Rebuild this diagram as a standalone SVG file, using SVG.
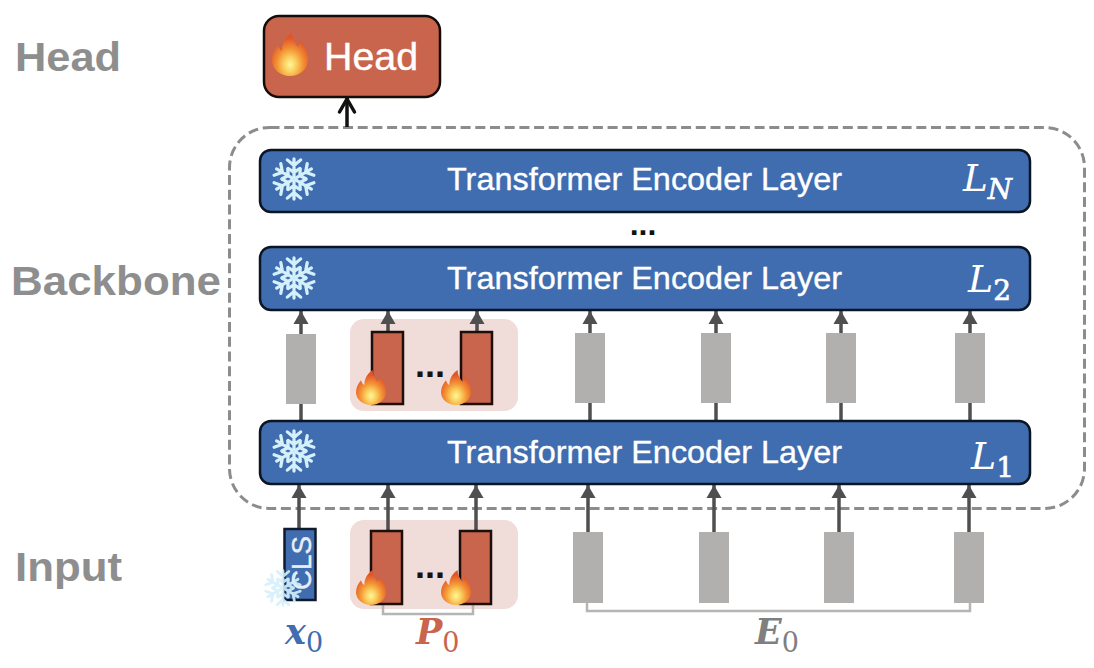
<svg xmlns="http://www.w3.org/2000/svg" width="1094" height="668" viewBox="0 0 1094 668">
  <style>
    .sans { font-family: "Liberation Sans", Arial, sans-serif; }
    .side { font-size: 41px; font-weight: 700; fill: #8e8e8e; }
    .layer { fill: #3f6db0; stroke: #0b1524; stroke-width: 2.5; }
    .layer-text { font-size: 32px; fill: #fff; stroke: #fff; stroke-width: 0.35; }
    .math { font-family: "DejaVu Serif", "Liberation Serif", serif; font-style: italic; }
    .sub { font-family: "DejaVu Serif", "Liberation Serif", serif; font-style: normal; }
    .layer-sub { font-size: 28px; stroke: #fff; stroke-width: 0.7; }
    .token { fill: #b2b0af; }
    .prompt-bg { fill: #f0dcd8; }
    .prompt { fill: #c9654c; stroke: #1b0f0c; stroke-width: 2.5; }
    .dots { font-size: 36px; font-weight: 700; fill: #1a1212; }
    .bracket { fill: none; stroke: #b5b5b5; stroke-width: 2.5; }
    .flow { fill: none; stroke: #4f4f4f; stroke-width: 3.5; }
    .snow-arm { fill: none; stroke: #d4f0fb; stroke-width: 3.4; stroke-linecap: round; stroke-linejoin: round; }
  </style>
  <defs>
    <marker id="tip" markerUnits="userSpaceOnUse" markerWidth="16" markerHeight="16" refX="13" refY="8" orient="auto">
      <path d="M0 0.500 L13 8 L0 15.500 Z" fill="#4f4f4f"/>
    </marker>
    <radialGradient id="fire" cx="50%" cy="74%" r="60%">
      <stop offset="0" stop-color="#fff79a"/>
      <stop offset="0.28" stop-color="#fbd060"/>
      <stop offset="0.6" stop-color="#f39334"/>
      <stop offset="1" stop-color="#e2552a"/>
    </radialGradient>
    <symbol id="flame" viewBox="0 0 36 44" preserveAspectRatio="none">
      <path fill="url(#fire)" d="M20 0 C20 7 23 11 26 15 C27 13 28 11 28 8 C33 14 36 21 36 27 C36 37 28 44 18 44 C8 44 0 37 0 28 C0 22 3 17 6 13 C7 16 8 18 10 19 C10 11 14 4 20 0 Z"/>
    </symbol>
    <g id="arm">
      <path class="snow-arm" d="M0 -2 V-21 M-7 -20 L0 -14 L7 -20 M-6 -11 L0 -7 L6 -11"/>
    </g>
    <symbol id="snowflake" viewBox="-23 -23 46 46">
      <use href="#arm"/>
      <use href="#arm" transform="rotate(60)"/>
      <use href="#arm" transform="rotate(120)"/>
      <use href="#arm" transform="rotate(180)"/>
      <use href="#arm" transform="rotate(240)"/>
      <use href="#arm" transform="rotate(300)"/>
    </symbol>
  </defs>

  <rect width="1094" height="668" fill="#fff"/>

  <!-- stage names on the left -->
  <g id="stage-labels" class="sans side">
    <text x="15" y="71" textLength="106" lengthAdjust="spacingAndGlyphs">Head</text>
    <text x="11" y="295" textLength="210" lengthAdjust="spacingAndGlyphs">Backbone</text>
    <text x="15" y="581" textLength="107" lengthAdjust="spacingAndGlyphs">Input</text>
  </g>

  <!-- dashed backbone frame -->
  <g id="backbone-frame">
    <rect x="229.5" y="127.5" width="855" height="381" rx="40" fill="none" stroke="#8c8c8c" stroke-width="3" stroke-dasharray="10 4.7"/>
  </g>

  <g id="prompt-panels">
    <rect class="prompt-bg" x="350" y="319" width="168" height="92" rx="14"/>
    <rect class="prompt-bg" x="350" y="520" width="168" height="89" rx="14"/>
  </g>

  <!-- connectors between layers and tokens -->
  <g id="connectors">
    <path d="M347 127 V98" fill="none" stroke="#111" stroke-width="3.5"/>
    <path d="M339.5 112 L347 99 L354.500 112" fill="none" stroke="#111" stroke-width="3.5" stroke-linecap="round"/>

    <path class="flow" marker-end="url(#tip)" d="M301 334 V311"/>
    <path class="flow" marker-end="url(#tip)" d="M388 332 V311"/>
    <path class="flow" marker-end="url(#tip)" d="M477 332 V311"/>
    <path class="flow" marker-end="url(#tip)" d="M590 333 V311"/>
    <path class="flow" marker-end="url(#tip)" d="M716 333 V311"/>
    <path class="flow" marker-end="url(#tip)" d="M841 333 V311"/>
    <path class="flow" marker-end="url(#tip)" d="M970 333 V311"/>

    <path class="flow" d="M301 404 V421"/>
    <path class="flow" d="M590 403 V421"/>
    <path class="flow" d="M716 403 V421"/>
    <path class="flow" d="M841 403 V421"/>
    <path class="flow" d="M970 403 V421"/>

    <path class="flow" marker-end="url(#tip)" d="M299 529 V485"/>
    <path class="flow" marker-end="url(#tip)" d="M388 531 V485"/>
    <path class="flow" marker-end="url(#tip)" d="M476 531 V485"/>
    <path class="flow" marker-end="url(#tip)" d="M588 532 V485"/>
    <path class="flow" marker-end="url(#tip)" d="M714 532 V485"/>
    <path class="flow" marker-end="url(#tip)" d="M839 532 V485"/>
    <path class="flow" marker-end="url(#tip)" d="M969 532 V485"/>

    <path class="bracket" d="M383 604 V614 H473 V604"/>
    <path class="bracket" d="M587 603 V611 H970 V603"/>
  </g>

  <g id="head">
    <rect x="264" y="16" width="176" height="81" rx="15" fill="#c9654c" stroke="#140c0a" stroke-width="2.5"/>
    <use href="#flame" x="272" y="32" width="36" height="44"/>
    <text class="sans" x="324" y="70" font-size="38" fill="#fff" stroke="#fff" stroke-width="0.4" textLength="94" lengthAdjust="spacingAndGlyphs">Head</text>
  </g>

  <g id="layer-n">
    <rect class="layer" x="260" y="150" width="770" height="62" rx="11"/>
    <use href="#snowflake" x="272" y="157" width="44" height="44"/>
    <text class="sans layer-text" x="447" y="190" textLength="395" lengthAdjust="spacingAndGlyphs">Transformer Encoder Layer</text>
    <text class="math" x="963" y="191" font-size="38" fill="#fff" textLength="49" lengthAdjust="spacingAndGlyphs">L<tspan class="math layer-sub" dy="8">N</tspan></text>
  </g>

  <text id="layer-ellipsis" class="sans" x="643" y="235" text-anchor="middle" font-size="32" font-weight="700" fill="#111">...</text>

  <g id="layer-2">
    <rect class="layer" x="260" y="247" width="770" height="63" rx="11"/>
    <use href="#snowflake" x="272" y="256" width="44" height="44"/>
    <text class="sans layer-text" x="447" y="289" textLength="395" lengthAdjust="spacingAndGlyphs">Transformer Encoder Layer</text>
    <text class="math" x="968" y="292" font-size="38" fill="#fff">L<tspan class="sub layer-sub" dy="8">2</tspan></text>
  </g>

  <g id="layer-1">
    <rect class="layer" x="260" y="421" width="770" height="63" rx="11"/>
    <use href="#snowflake" x="272" y="429" width="44" height="44"/>
    <text class="sans layer-text" x="447" y="463" textLength="395" lengthAdjust="spacingAndGlyphs">Transformer Encoder Layer</text>
    <text class="math" x="971" y="469" font-size="38" fill="#fff">L<tspan class="sub layer-sub" dy="8">1</tspan></text>
  </g>

  <g id="hidden-tokens">
    <rect class="token" x="286" y="334" width="30" height="70"/>
    <rect class="token" x="575" y="333" width="30" height="70"/>
    <rect class="token" x="701" y="333" width="30" height="70"/>
    <rect class="token" x="826" y="333" width="30" height="70"/>
    <rect class="token" x="955" y="333" width="30" height="70"/>
  </g>

  <g id="hidden-prompts">
    <rect class="prompt" x="372" y="332" width="31" height="72"/>
    <rect class="prompt" x="461" y="332" width="31" height="72"/>
    <use href="#flame" x="356" y="370" width="30" height="35"/>
    <use href="#flame" x="441" y="370" width="30" height="35"/>
    <text class="sans dots" x="430" y="377" text-anchor="middle">...</text>
  </g>

  <g id="cls-token">
    <rect x="284.500" y="529" width="31" height="71" fill="#3f6db0" stroke="#101a2a" stroke-width="2.500"/>
    <text class="sans" transform="translate(311 590) rotate(-90)" font-size="28" fill="#e8eef6" stroke="#e8eef6" stroke-width="0.4" textLength="54" lengthAdjust="spacingAndGlyphs">CLS</text>
    <use href="#snowflake" x="264" y="569" width="38" height="38" opacity="0.9"/>
  </g>

  <g id="input-prompts">
    <rect class="prompt" x="371" y="531" width="31" height="73"/>
    <rect class="prompt" x="460" y="531" width="31" height="73"/>
    <use href="#flame" x="356" y="570" width="30" height="35"/>
    <use href="#flame" x="441" y="570" width="30" height="35"/>
    <text class="sans dots" x="430" y="578" text-anchor="middle">...</text>
  </g>

  <g id="input-tokens">
    <rect class="token" x="573" y="532" width="30" height="71"/>
    <rect class="token" x="699" y="532" width="30" height="71"/>
    <rect class="token" x="824" y="532" width="30" height="71"/>
    <rect class="token" x="954" y="532" width="30" height="71"/>
  </g>

  <g id="input-symbols">
    <text class="math" x="285" y="644" font-size="35" font-weight="700" fill="#3f6db0">x<tspan class="sub" font-size="27" font-weight="400" dy="8">0</tspan></text>
    <text class="math" x="416" y="644" font-size="35" font-weight="700" fill="#c9654c">P<tspan class="sub" font-size="27" font-weight="400" dy="8">0</tspan></text>
    <text class="math" x="755" y="644" font-size="35" font-weight="700" fill="#7f7f7f">E<tspan class="sub" font-size="27" font-weight="400" dy="8">0</tspan></text>
  </g>
</svg>
